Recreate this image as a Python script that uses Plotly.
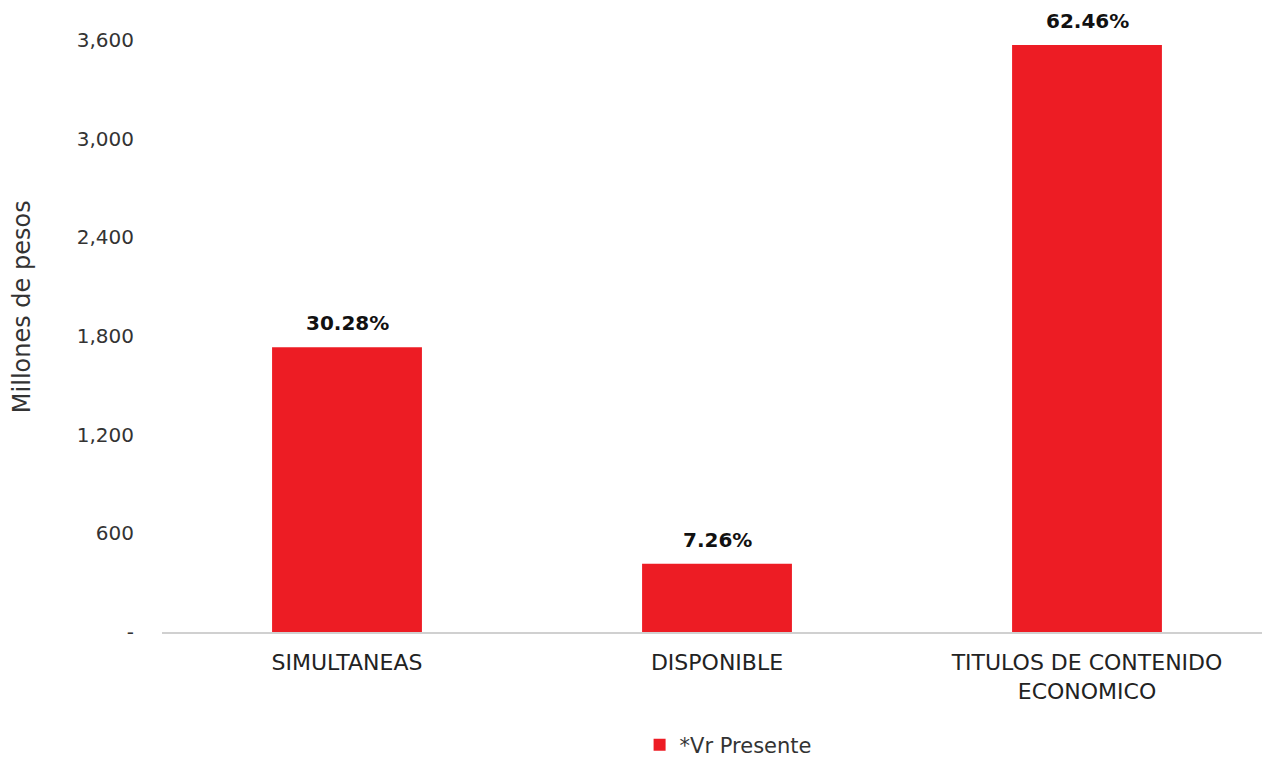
import plotly.graph_objects as go

categories = ["SIMULTANEAS", "DISPONIBLE", "TITULOS DE CONTENIDO<br>ECONOMICO"]
values = [1731, 415, 3570]
percent_labels = ["30.28%", "7.26%", "62.46%"]
tick_vals = [0, 600, 1200, 1800, 2400, 3000, 3600]
tick_text = ["-", "600", "1,200", "1,800", "2,400", "3,000", "3,600"]

FONT = "'DejaVu Sans', sans-serif"

fig = go.Figure()
fig.add_trace(go.Bar(
    x=categories, y=values, name="*Vr Presente",
    marker=dict(color="#ED1C24", line=dict(width=0)),
    width=0.405,
))

for c, v, t in zip(categories, values, percent_labels):
    fig.add_annotation(x=c, y=v, text="<b>" + t + "</b>", showarrow=False,
                       yanchor="bottom", yshift=10,
                       font=dict(family=FONT, size=20, color="#111111"))

fig.add_annotation(xref="paper", yref="paper", x=-0.126, y=0.549,
                   text="Millones de pesos", textangle=-90, showarrow=False,
                   xanchor="center", yanchor="middle",
                   font=dict(family=FONT, size=24, color="#333333"))

fig.update_layout(
    width=1270, height=757,
    paper_bgcolor="white", plot_bgcolor="white",
    margin=dict(l=154, r=6, t=32, b=133),
    font=dict(family=FONT, size=20, color="#333333"),
    showlegend=True,
    legend=dict(orientation="h", xref="container", yref="container",
                x=0.567, xanchor="center", y=0.0264, yanchor="middle",
                font=dict(family=FONT, size=21, color="#333333")),
    xaxis=dict(showgrid=False, showline=True, linecolor="#D0D0D0", linewidth=2,
               ticks="", automargin=False, ticklabelstandoff=10,
               tickfont=dict(family=FONT, size=22, color="#222222")),
    yaxis=dict(range=[0, 3600], tickvals=tick_vals, ticktext=tick_text,
               showgrid=False, zeroline=False, showline=False, ticks="",
               ticklabelstandoff=27, automargin=False,
               tickfont=dict(family=FONT, size=20, color="#333333")),
)

fig.write_html("out.html")
